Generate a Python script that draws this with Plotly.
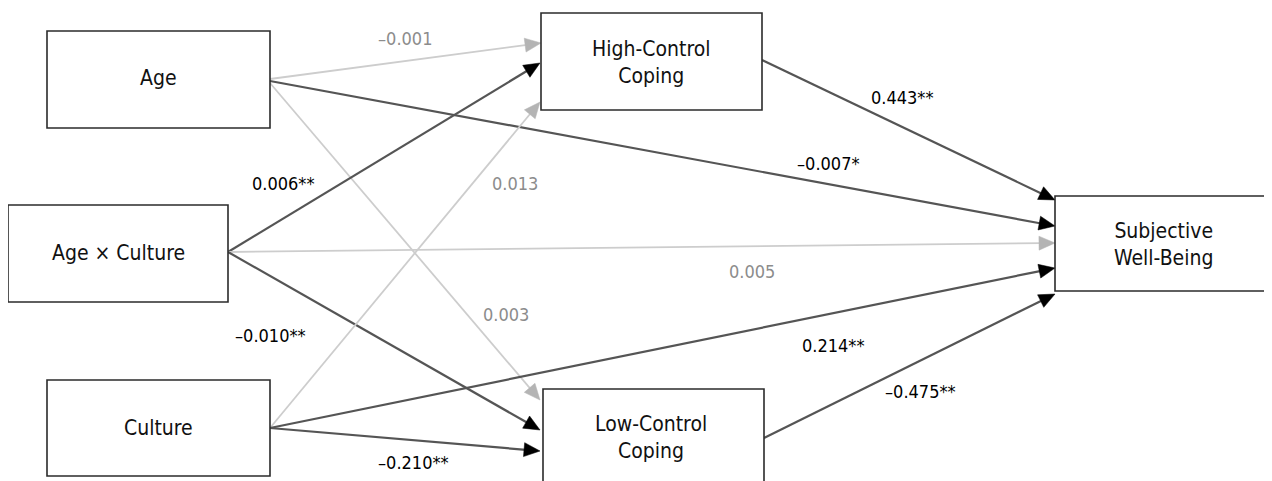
import math
import plotly.graph_objects as go

# ---- nodes (layout in pixel coordinates) ----
node_names = ["Age", "Age × Culture", "Culture", "High-Control<br>Coping",
              "Low-Control<br>Coping", "Subjective<br>Well-Being"]
node_x0 = [47, 8, 47, 541, 543, 1055]
node_x1 = [270, 228, 270, 762, 764, 1285]
node_y0 = [31, 205, 380, 13, 389, 196]
node_y1 = [128, 302, 476, 110, 495, 291]
node_text_x = [158, 118, 158, 651, 651, 1163]
node_text_y = [78, 253, 428, 62, 437, 244]

# ---- paths ----
edge_labels = ["–0.001", "–0.007*", "0.003", "0.006**", "0.005", "–0.010**",
               "0.013", "0.214**", "–0.210**", "0.443**", "–0.475**"]
edge_significant = [False, True, False, True, False, True,
                    False, True, True, True, True]
edge_start_x = [270, 270, 270, 228, 228, 228, 270, 270, 270, 762, 764]
edge_start_y = [79, 81, 83, 252, 252, 252, 428, 428, 428, 60, 438]
edge_end_x = [541, 1055, 540, 540, 1055, 540, 540, 1055, 540, 1055, 1055]
edge_end_y = [43, 226, 400, 63, 243, 430, 102, 268, 451, 200, 294]
label_x = [405, 828, 506, 283, 752, 270, 515, 833, 413, 902, 920]
label_y = [38, 163, 314, 183, 271, 335, 183, 345, 462, 97, 391]

W, H = 1272, 481
OFF = 8  # page body margin
fig = go.Figure()
shapes = []
annotations = []

FONT = "DejaVu Sans Condensed, Liberation Sans Narrow, Arial Narrow, sans-serif"
DARK_LINE = "#555555"
LIGHT_LINE = "#cdcdcd"
HEAD_LEN, HEAD_HALF = 16, 7

for i in range(len(edge_labels)):
    sx, sy, ex, ey = edge_start_x[i], edge_start_y[i], edge_end_x[i], edge_end_y[i]
    sig = edge_significant[i]
    dx, dy = ex - sx, ey - sy
    L = math.hypot(dx, dy)
    ux, uy = dx / L, dy / L
    bx, by = ex - ux * HEAD_LEN, ey - uy * HEAD_LEN
    px, py = -uy, ux
    shapes.append(dict(type="line", xref="x", yref="y", x0=sx, y0=sy, x1=bx + ux * 2, y1=by + uy * 2,
                       line=dict(color=DARK_LINE if sig else LIGHT_LINE, width=2.2 if sig else 1.8),
                       layer="below"))
    path = (f"M{ex},{ey} L{bx + px * HEAD_HALF},{by + py * HEAD_HALF} "
            f"L{bx - px * HEAD_HALF},{by - py * HEAD_HALF} Z")
    col = "#000000" if sig else "#b4b4b4"
    shapes.append(dict(type="path", xref="x", yref="y", path=path,
                       fillcolor=col, line=dict(color=col, width=0.5), layer="below"))
    annotations.append(dict(x=label_x[i], y=label_y[i], xref="x", yref="y",
                            text=edge_labels[i], showarrow=False,
                            font=dict(family=FONT, size=18,
                                      color="#000000" if sig else "#8c8c8c")))

for i in range(len(node_names)):
    shapes.append(dict(type="rect", xref="x", yref="y",
                       x0=node_x0[i], x1=node_x1[i], y0=node_y0[i], y1=node_y1[i],
                       line=dict(color="#2b2b2b", width=1.6), fillcolor="white", layer="above"))
    annotations.append(dict(x=node_text_x[i], y=node_text_y[i], xref="x", yref="y",
                            text=node_names[i], showarrow=False,
                            font=dict(family=FONT, size=21, color="#111111")))

fig.update_layout(
    width=W - OFF, height=H - OFF,
    margin=dict(l=0, r=0, t=0, b=0),
    paper_bgcolor="white", plot_bgcolor="white",
    xaxis=dict(range=[OFF, W], visible=False, fixedrange=True),
    yaxis=dict(range=[H, OFF], visible=False, fixedrange=True),
    shapes=shapes, annotations=annotations, showlegend=False,
)
fig.write_html("out.html")
